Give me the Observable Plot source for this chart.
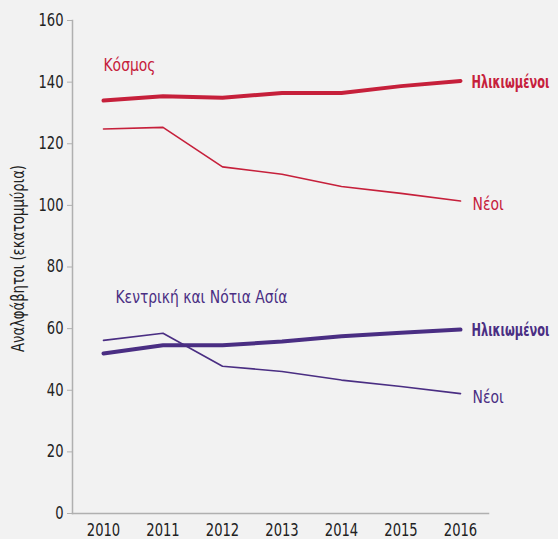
<!DOCTYPE html>
<html>
<head>
<meta charset="utf-8">
<script src="https://cdn.jsdelivr.net/npm/d3@7"></script>
<script src="https://cdn.jsdelivr.net/npm/@observablehq/plot@0.6"></script>
<style>
  html, body { margin: 0; padding: 0; background: #f2f2f2; }
  #chart svg { display: block; }
</style>
</head>
<body>
<div id="chart"></div>
<script>
const years = [2010, 2011, 2012, 2013, 2014, 2015, 2016];
const worldAdults = [134.0, 135.4, 134.9, 136.5, 136.5, 138.7, 140.4];
const worldYouth = [124.8, 125.3, 112.5, 110.1, 106.1, 103.9, 101.4];
const asiaAdults = [51.9, 54.6, 54.6, 55.8, 57.5, 58.7, 59.7];
const asiaYouth = [56.2, 58.5, 47.8, 46.1, 43.3, 41.2, 38.9];
const regionNames = ["Κόσμος", "Κεντρική και Νότια Ασία"];
const groupNames = ["Ηλικιωμένοι", "Νέοι"];
const yTicks = [0, 20, 40, 60, 80, 100, 120, 140, 160];
const yLabel = "Αναλφάβητοι (εκατομμύρια)";

const RED = "#c6203b";
const PURPLE = "#4a2e83";
const FONT = "'Liberation Sans Narrow', 'DejaVu Sans Condensed', 'Roboto Condensed', sans-serif";

const series = [
  {region: 0, group: 0, values: worldAdults, color: RED, width: 4},
  {region: 0, group: 1, values: worldYouth, color: RED, width: 1.6},
  {region: 1, group: 0, values: asiaAdults, color: PURPLE, width: 4},
  {region: 1, group: 1, values: asiaYouth, color: PURPLE, width: 1.6}
];

const rows = series.flatMap((s, i) => years.map((yr, j) => ({id: i, year: yr, value: s.values[j]})));
const lastPts = series.map((s, i) => ({
  year: years[years.length - 1], value: s.values[s.values.length - 1],
  label: groupNames[s.group], color: s.color, bold: s.group === 0
}));

const lineMarks = series.map((s, i) => Plot.line(rows.filter(r => r.id === i), {
  x: "year", y: "value", stroke: s.color, strokeWidth: s.width,
  strokeLinejoin: "round", strokeLinecap: "round"
}));

const chart = Plot.plot({
  width: 558,
  height: 539,
  marginLeft: 72,
  marginRight: 70,
  marginTop: 20,
  marginBottom: 26,
  style: {background: "#f2f2f2", fontFamily: FONT, fontSize: "16px", color: "#222"},
  x: {domain: [2010, 2016], range: [103, 460], label: null},
  y: {domain: [0, 160], label: null},
  marks: [
    Plot.axisY({ticks: yTicks, tickSize: 5, tickPadding: 4, stroke: "#b0b0b0", fill: "#222", fontSize: 17, label: null}),
    Plot.axisX({ticks: years, tickFormat: d => String(d), tickSize: 0, tickPadding: 10, fill: "#222", fontSize: 17, label: null}),
    Plot.frame({anchor: "left", stroke: "#b0b0b0", strokeWidth: 1.5}),
    Plot.frame({anchor: "bottom", stroke: "#b0b0b0", strokeWidth: 1.5}),
    ...lineMarks,
    Plot.text(lastPts.filter(d => d.bold), {x: "year", y: "value", text: "label", fill: d => d.color, dx: 11, dy: 1, textAnchor: "start", fontSize: 18, fontWeight: "bold"}),
    Plot.text(lastPts.filter(d => !d.bold), {x: "year", y: "value", text: "label", fill: d => d.color, dx: 12, dy: 3.5, textAnchor: "start", fontSize: 18}),
    Plot.text([regionNames[0]], {x: () => 2010, y: () => 145.4, text: d => d, fill: RED, textAnchor: "start", fontSize: 18}),
    Plot.text([regionNames[1]], {x: () => 2010, y: () => 70.3, text: d => d, fill: PURPLE, textAnchor: "start", dx: 12, fontSize: 18}),
    Plot.text([yLabel], {frameAnchor: "left", text: d => d, rotate: -90, textAnchor: "middle", dx: -54, dy: -8.5, fill: "#222", fontSize: 17})
  ]
});
document.getElementById("chart").appendChild(chart);
// emulate a condensed typeface by narrowing every text horizontally
chart.querySelectorAll("text").forEach(t => {
  t.style.fontFamily = FONT;
  const len = t.getComputedTextLength();
  if (len <= 0) return;
  let target = len * 0.86;
  if (t.textContent === groupNames[0]) target = Math.min(target, 78);
  const k = target / len;
  const tr = t.getAttribute("transform");
  if (tr && /translate/.test(tr) && !t.hasAttribute("x")) {
    t.setAttribute("transform", tr + ` scale(${k.toFixed(3)},1)`);
  } else {
    t.setAttribute("textLength", target.toFixed(1));
    t.setAttribute("lengthAdjust", "spacingAndGlyphs");
  }
});
</script>
</body>
</html>
